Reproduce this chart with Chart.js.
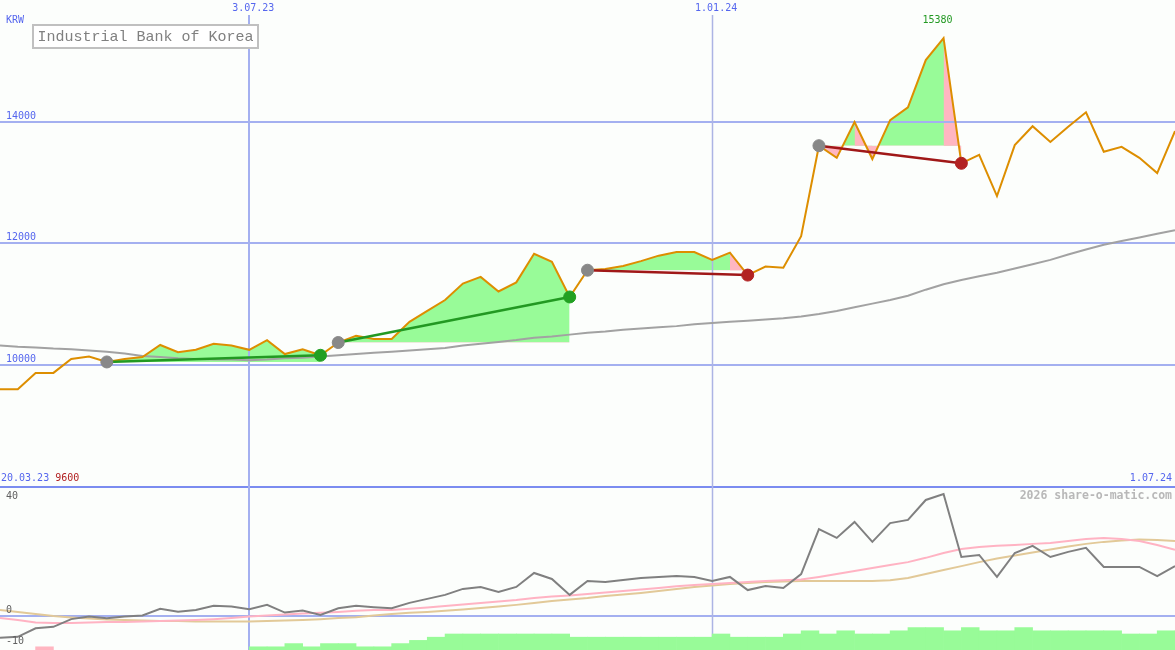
<!DOCTYPE html>
<html lang="en">
<head>
<meta charset="UTF-8">
<title>Industrial Bank of Korea</title>
<script src="https://cdn.jsdelivr.net/npm/chart.js@4.4.1/dist/chart.umd.min.js"></script>
<style>
    body {
        margin: 0;
        background: #fcfefc;
    }
    #wrap {
        width: 1175px;
        height: 650px;
    }
</style>
</head>
<body>
<div id="wrap"><canvas id="chart" width="1175" height="650"></canvas></div>
<script>
// weekly data, week 0 = 27.03.23 ... week 66 = 1.07.24
const price = [9600, 9600, 9870, 9870, 10100, 10140, 10050, 10100, 10130, 10330,
    10210, 10250, 10350, 10320, 10250, 10410, 10180, 10260, 10160, 10370,
    10480, 10430, 10430, 10710, 10890, 11070, 11340, 11450, 11210, 11360,
    11830, 11700, 11120, 11560, 11580, 11630, 11710, 11800, 11860, 11860,
    11730, 11850, 11480, 11620, 11600, 12120, 13610, 13410, 14000, 13390,
    14030, 14240, 15020, 15380, 13320, 13460, 12780, 13620, 13930, 13670,
    13920, 14160, 13510, 13590, 13410, 13160, 13850];

const avg200 = [10320, 10300, 10290, 10270, 10260, 10240, 10220, 10190, 10150, 10130,
    10110, 10100, 10090, 10090, 10080, 10090, 10110, 10120, 10140, 10160,
    10180, 10200, 10220, 10240, 10260, 10280, 10320, 10350, 10380, 10410,
    10450, 10470, 10500, 10530, 10550, 10580, 10600, 10620, 10640, 10670,
    10690, 10710, 10730, 10750, 10770, 10800, 10840, 10890, 10950, 11010,
    11070, 11140, 11240, 11330, 11400, 11460, 11520, 11590, 11660, 11730,
    11820, 11900, 11980, 12040, 12100, 12160, 12220];

// lower panel
const momentum = [-7.6, -7.3, -4.3, -3.8, -1.1, -0.2, -0.8, -0.2, 0.2, 2.5,
    1.5, 2.1, 3.6, 3.3, 2.4, 3.9, 1.2, 1.9, 0.4, 2.7,
    3.6, 3.1, 2.7, 4.6, 6.0, 7.4, 9.5, 10.2, 8.4, 10.2,
    15.1, 13.0, 7.4, 12.3, 11.9, 12.6, 13.3, 13.7, 14.0, 13.7,
    12.3, 13.7, 9.1, 10.5, 9.8, 14.7, 30.5, 27.4, 33.0, 26.0,
    32.6, 33.7, 40.7, 42.8, 20.7, 21.4, 13.7, 22.1, 24.6, 20.7,
    22.5, 23.9, 17.2, 17.2, 17.2, 14.0, 17.5];

const momFast = [-0.7, -1.4, -2.3, -2.5, -2.5, -2.3, -2.1, -2.1, -1.9, -1.8,
    -1.6, -1.4, -1.1, -0.7, -0.2, 0.2, 0.5, 0.9, 1.1, 1.4,
    1.8, 2.1, 2.1, 2.5, 3.0, 3.5, 4.0, 4.6, 5.1, 5.6,
    6.3, 6.8, 7.2, 7.7, 8.2, 8.8, 9.3, 9.8, 10.4, 10.9,
    11.2, 11.6, 11.9, 12.3, 12.5, 12.8, 13.7, 14.7, 15.8, 16.8,
    17.9, 18.9, 20.4, 22.1, 23.5, 24.2, 24.6, 24.9, 25.3, 25.6,
    26.3, 27.0, 27.4, 27.0, 26.3, 24.9, 23.2];

const momSlow = [2.1, 1.4, 0.7, 0, -0.5, -0.9, -1.2, -1.4, -1.6, -1.8,
    -1.8, -1.9, -1.9, -1.9, -1.9, -1.8, -1.6, -1.4, -1.1, -0.7,
    -0.4, 0.2, 0.7, 1.1, 1.4, 1.8, 2.3, 2.8, 3.3, 3.9,
    4.6, 5.3, 5.8, 6.3, 7.0, 7.5, 8.1, 8.8, 9.5, 10.2,
    10.7, 11.2, 11.6, 11.9, 12.1, 12.3, 12.3, 12.3, 12.3, 12.3,
    12.5, 13.3, 14.7, 16.1, 17.5, 18.9, 20.2, 21.2, 22.3, 23.3,
    24.4, 25.3, 26.0, 26.5, 26.8, 26.7, 26.3];

// trend score per week (negative = weak)
const score = [0, 0, -1, 0, 0, 0, 0, 0, 0, 0,
    0, 0, 0, 0, 1, 1, 2, 1, 2, 2,
    1, 1, 2, 3, 4, 5, 5, 5, 5, 5,
    5, 5, 4, 4, 4, 4, 4, 4, 4, 4,
    5, 4, 4, 4, 5, 6, 5, 6, 5, 5,
    6, 7, 7, 6, 7, 6, 6, 7, 6, 6,
    6, 6, 6, 5, 5, 6, 6];

// trades (week index of buy and sell)
const tradeIn = [6, 19, 33, 46];
const tradeOut = [18, 32, 42, 54];
const lossLegs = [41, 48, 53];

const dateWeeks = [14, 40];
const dateLabels = ['3.07.23', '1.01.24'];
const startLabel = '20.03.23';
const endLabel = '1.07.24';
const priceTicks = [10000, 12000, 14000];
const panelFloor = 8000;
const momTicks = [40, 0, -10];

const GREEN_FILL = '#98fb98';
const PINK_FILL = '#ffb6c1';
const BLUE = '#5566ee';
const GRID = '#a4b0f0';
const MONO = '"DejaVu Sans Mono", monospace';

const pts = arr => arr.map((v, i) => ({x: i, y: v}));

const datasets = [];

// green / pink areas of each trade
tradeIn.forEach((a, k) => {
    const b = tradeOut[k];
    datasets.push({
        type: 'line', yAxisID: 'y', order: 11,
        data: price.slice(a, b + 1).map((v, i) => ({x: a + i, y: v})),
        borderColor: 'rgba(0,0,0,0)', borderWidth: 0, pointRadius: 0,
        fill: {target: {value: price[a]}, above: GREEN_FILL, below: PINK_FILL}
    });
});

// falling legs of losing trades
lossLegs.forEach(w => {
    const k = tradeIn.findIndex((a, i) => a <= w && w < tradeOut[i]);
    datasets.push({
        type: 'line', yAxisID: 'y', order: 10,
        data: [{x: w, y: price[w]}, {x: w + 1, y: price[w + 1]}],
        borderColor: 'rgba(0,0,0,0)', borderWidth: 0, pointRadius: 0,
        fill: {target: {value: price[tradeIn[k]]}, above: PINK_FILL, below: PINK_FILL}
    });
});

datasets.push({
    label: 'signal', type: 'bar', yAxisID: 'ys', order: 9,
    data: score.map((v, i) => v ? {x: i + 0.5, y: Math.abs(v)} : null).filter(Boolean),
    backgroundColor: c => score[Math.floor(c.raw.x)] > 0 ? GREEN_FILL : PINK_FILL,
    barPercentage: 1, categoryPercentage: 1, borderWidth: 0
});

datasets.push({type: 'line', yAxisID: 'yo', order: 8, data: pts(momSlow),
    borderColor: '#e2c998', borderWidth: 2, pointRadius: 0});
datasets.push({type: 'line', yAxisID: 'yo', order: 7, data: pts(momFast),
    borderColor: '#ffb3c3', borderWidth: 2, pointRadius: 0});
datasets.push({type: 'line', yAxisID: 'y', order: 6, data: pts(avg200),
    borderColor: '#a2a2a2', borderWidth: 2, pointRadius: 0});
datasets.push({type: 'line', yAxisID: 'y', order: 5, data: pts(price),
    borderColor: '#dd8e00', borderWidth: 2, pointRadius: 0});
datasets.push({type: 'line', yAxisID: 'yo', order: 4, data: pts(momentum),
    borderColor: '#808080', borderWidth: 2, pointRadius: 0});

// trade lines with buy / sell markers
tradeIn.forEach((a, k) => {
    const b = tradeOut[k];
    const win = price[b] > price[a];
    const dot = ['#888888', win ? '#22a022' : '#b22222'];
    datasets.push({
        type: 'line', yAxisID: 'y', order: 2,
        data: [{x: a, y: price[a]}, {x: b, y: price[b]}],
        borderColor: win ? '#229922' : '#a01818', borderWidth: 2.5,
        pointRadius: 6, pointBackgroundColor: dot, pointBorderColor: dot, pointBorderWidth: 1
    });
});

function hline(ctx, y0, x0, x1) {
    ctx.beginPath(); ctx.moveTo(x0, y0); ctx.lineTo(x1, y0); ctx.stroke();
}
function vline(ctx, x0, y0, y1) {
    ctx.beginPath(); ctx.moveTo(x0, y0); ctx.lineTo(x0, y1); ctx.stroke();
}

function drawGrid(chart) {
    const {ctx, width, height} = chart;
    const {x, y, yo} = chart.scales;
    ctx.save();
    ctx.lineWidth = 2;
    ctx.strokeStyle = GRID;
    priceTicks.forEach(v => hline(ctx, Math.round(y.getPixelForValue(v)), 0, width));
    hline(ctx, Math.round(yo.getPixelForValue(0)), 0, width);
    ctx.strokeStyle = '#7b8cf0';
    hline(ctx, Math.round(y.getPixelForValue(panelFloor)), 0, width);
    dateWeeks.forEach((w, i) => {
        const newYear = dateLabels[i].startsWith('1.01');
        ctx.lineWidth = newYear ? 1.5 : 2;
        ctx.strokeStyle = newYear ? '#acb4e4' : GRID;
        vline(ctx, Math.round(x.getPixelForValue(w)) + (newYear ? 0.5 : 0), 15, height);
    });
    ctx.restore();
}

function drawText(chart) {
    const {ctx, width} = chart;
    const {x, y, yo} = chart.scales;
    ctx.save();
    ctx.textBaseline = 'middle';
    ctx.font = '10px ' + MONO;
    ctx.fillStyle = BLUE;
    ctx.textAlign = 'left';
    ctx.fillText('KRW', 6, 20);
    priceTicks.forEach(v => ctx.fillText(String(v), 6, y.getPixelForValue(v) - 6));

    const floorY = y.getPixelForValue(panelFloor) - 8;
    ctx.fillText(startLabel, 1, floorY);
    ctx.fillStyle = '#b22222';
    ctx.fillText(String(Math.min(...price)), 1 + ctx.measureText(startLabel + ' ').width, floorY);
    ctx.fillStyle = BLUE;
    ctx.textAlign = 'right';
    ctx.fillText(endLabel, width - 3, floorY);

    ctx.textAlign = 'center';
    dateWeeks.forEach((w, i) => ctx.fillText(dateLabels[i], x.getPixelForValue(w) + 4, 8));

    const hi = Math.max(...price);
    ctx.fillStyle = '#229922';
    ctx.fillText(String(hi), x.getPixelForValue(price.indexOf(hi)) - 6, 20);

    ctx.fillStyle = '#606060';
    ctx.textAlign = 'left';
    momTicks.forEach(v => ctx.fillText(String(v), 6, yo.getPixelForValue(v) - (v < 0 ? 3 : 6)));

    ctx.font = 'bold 11.5px ' + MONO;
    ctx.fillStyle = '#b8b8b8';
    ctx.textAlign = 'right';
    ctx.fillText('2026 share-o-matic.com', width - 3, 496);

    // title box
    ctx.fillStyle = '#ffffff';
    ctx.fillRect(33, 25, 225, 23);
    ctx.lineWidth = 2;
    ctx.strokeStyle = '#c0c0c0';
    ctx.strokeRect(33, 25, 225, 23);
    ctx.font = '15px "Liberation Mono", monospace';
    ctx.fillStyle = '#808080';
    ctx.textAlign = 'center';
    ctx.textBaseline = 'alphabetic';
    ctx.fillText('Industrial Bank of Korea', 145.5, 41);
    ctx.restore();
}

const sheet = {
    id: 'sheet',
    beforeDraw(chart) {
        const {ctx, width, height} = chart;
        ctx.save();
        ctx.fillStyle = '#fcfefc';
        ctx.fillRect(0, 0, width, height);
        ctx.restore();
    },
    beforeDatasetDraw(chart, args) {
        if (chart.data.datasets[args.index].label === 'signal') drawGrid(chart);
    },
    afterDatasetsDraw(chart) {
        drawText(chart);
    }
};

new Chart(document.getElementById('chart'), {
    type: 'line',
    data: {datasets},
    options: {
        responsive: false,
        animation: false,
        events: [],
        layout: {padding: 0, autoPadding: false},
        elements: {line: {tension: 0}, point: {radius: 0}},
        plugins: {legend: {display: false}, tooltip: {enabled: false}},
        scales: {
            x: {type: 'linear', min: 0, max: 66, offset: false, display: false, ticks: {stepSize: 1}},
            y: {type: 'linear', min: 5309, max: 16008, display: false},
            yo: {type: 'linear', axis: 'y', min: -11.93, max: 216.1, display: false},
            ys: {type: 'linear', axis: 'y', min: 0, max: 203, display: false}
        }
    },
    plugins: [sheet]
});
</script>
</body>
</html>
